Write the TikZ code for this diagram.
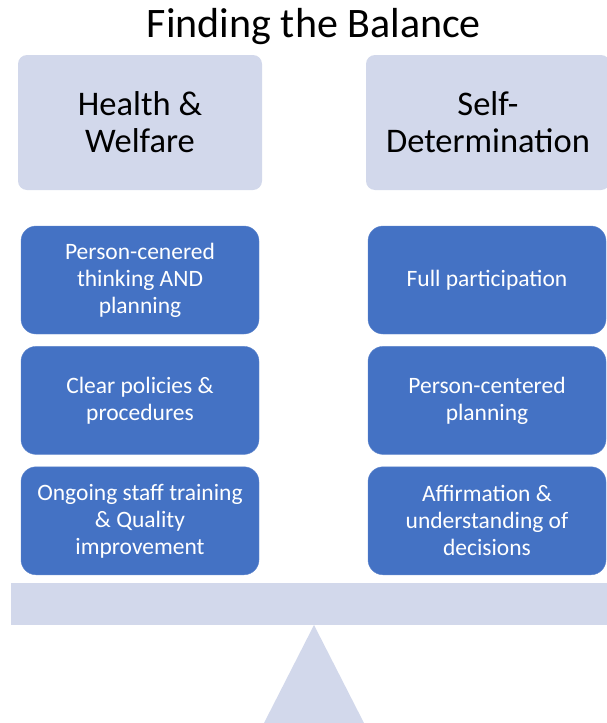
\documentclass[tikz,border=0pt]{standalone}
\usepackage{fontspec}
\setmainfont{Carlito}
\usepackage{tikz}
\definecolor{balblue}{HTML}{4472C4}
\definecolor{ballight}{HTML}{D2D8EB}
\usetikzlibrary{positioning}

\begin{document}
\begin{tikzpicture}[x=1pt, y=-1pt,
		headbox/.style={rectangle, rounded corners=9pt, fill=ballight, minimum width=244pt, minimum height=135pt, align=center, font=\fontsize{34.5}{37}\selectfont, inner sep=0pt},
		itembox/.style={rectangle, rounded corners=15pt, fill=balblue, draw=balblue!85!white, minimum width=238pt, minimum height=108pt, align=center, text=white, font=\fontsize{23.5}{27}\selectfont, inner sep=0pt}]
		\useasboundingbox (0,0) rectangle (606,723);
		
		\node[font=\fontsize{42}{46}\selectfont] (title) at (314,27) {Finding the Balance};
		
		\node[headbox] (hw) at (140,122.5) {Health \&\\Welfare};
		\node[headbox] (sd) at (488,122.5) {Self-\\Determination};
		
		\node[itembox] (h1) at (140,280) {Person-cenered\\thinking AND\\planning};
		\node[itembox, below=12pt of h1] (h2) {Clear policies \&\\procedures};
		\node[itembox, below=12pt of h2] (h3) {Ongoing staff training\\\& Quality\\improvement};
		
		\node[itembox] (s1) at (487,280) {Full participation};
		\node[itembox, below=12pt of s1] (s2) {Person-centered\\planning};
		\node[itembox, below=12pt of s2] (s3) {Affirmation \&\\understanding of\\decisions};
		
		% beam and pivot
		\fill[ballight] (11,583) rectangle (612,625);
		\fill[ballight] (314,625) -- (364,723) -- (264,723) -- cycle;
		
	\end{tikzpicture}
\end{document}
